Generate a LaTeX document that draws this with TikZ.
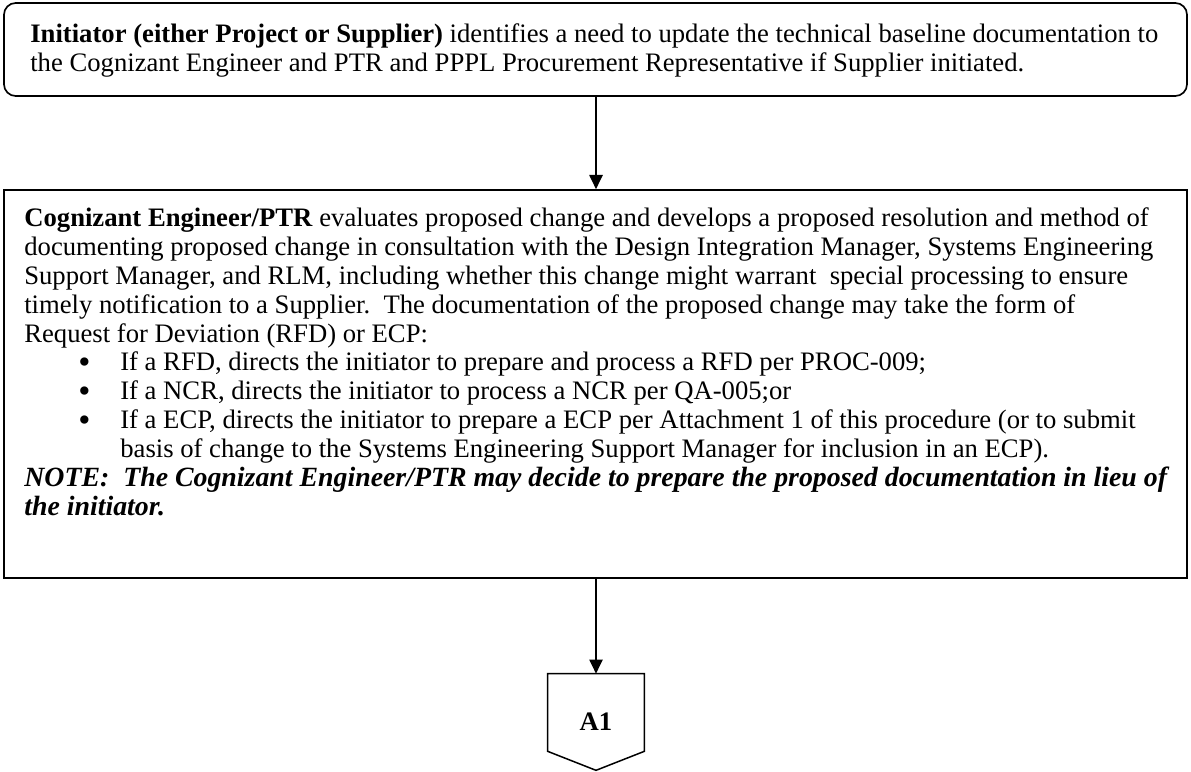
\documentclass[tikz,border=0pt]{standalone}
\usepackage{fontspec}
\setmainfont{Liberation Serif}
\usetikzlibrary{arrows.meta,calc}

\tikzset{
  frame/.style={draw=black, line width=1pt, inner sep=0pt},
  body/.style={inner sep=0pt, anchor=north west, align=left,
    font=\fontsize{16}{17.35}\selectfont},
  flow/.style={line width=0.9pt, -{Triangle[length=8.5pt,width=8pt]}},
}
\newcommand{\bitem}{\makebox[32.4pt][l]{}\makebox[25.2pt][l]{\smash{\raisebox{-1.6pt}{\scalebox{1.3}{\textbullet}}}}}
\newcommand{\bcont}{\makebox[57.6pt][l]{}}
\newcommand{\notefont}{\fontsize{16.7}{17.35}\selectfont\bfseries\itshape}

\begin{document}
\begin{tikzpicture}[x=0.6pt, y=-0.6pt]
  \useasboundingbox (0,0) rectangle (1191,772);

  % process boxes
  \node[frame, rounded corners=7pt, minimum width=709.8pt, minimum height=55.8pt]
    (init) at (595.5,49.5) {};
  \node[frame, minimum width=709.8pt, minimum height=232.8pt]
    (eval) at (595.5,384) {};

  % off-page connector A1
  \node[inner sep=0pt, minimum width=57.6pt, minimum height=57.6pt,
        font=\fontsize{16}{17.35}\selectfont\bfseries]
    (a1) at (596,722) {A1};
  \draw[line width=0.9pt]
    (a1.north west) -- (a1.north east)
    -- ($(a1.south east)+(0,-19)$) -- (a1.south)
    -- ($(a1.south west)+(0,-19)$) -- cycle;

  % texts
  \node[body] (initText) at (30,21.8) {%
    \strut\textbf{Initiator (either Project or Supplier)} identifies a need to update the technical baseline documentation to\\
    the Cognizant Engineer and PTR and PPPL Procurement Representative if Supplier initiated.};

  \node[body] (evalText) at (24,205.8) {%
    \strut\textbf{Cognizant Engineer/PTR} evaluates proposed change and develops a proposed resolution and method of\\
    documenting proposed change in consultation with the Design Integration Manager, Systems Engineering\\
    Support Manager, and RLM, including whether this change might warrant\ \ special processing to ensure\\
    timely notification to a Supplier.\ \ The documentation of the proposed change may take the form of\\
    Request for Deviation (RFD) or ECP:\\
    \bitem If a RFD, directs the initiator to prepare and process a RFD per PROC-009;\\
    \bitem If a NCR, directs the initiator to process a NCR per QA-005;or\\
    \bitem If a ECP, directs the initiator to prepare a ECP per Attachment 1 of this procedure (or to submit\\
    \bcont basis of change to the Systems Engineering Support Manager for inclusion in an ECP).\\
    {\notefont NOTE:\ \ The Cognizant Engineer/PTR may decide to prepare the proposed documentation in lieu of}\\
    {\notefont the initiator.}};

  % connectors
  \draw[flow] (init.south -| a1.north) -- (eval.north -| a1.north);
  \draw[flow] (eval.south -| a1.north) -- (a1.north);
\end{tikzpicture}
\end{document}
